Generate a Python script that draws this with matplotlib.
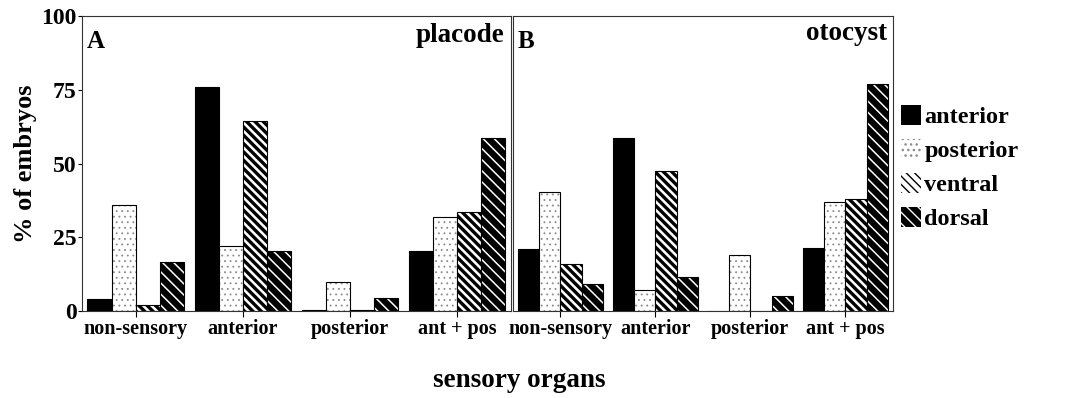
import matplotlib.pyplot as plt
import numpy as np

plt.rcParams['font.family'] = ['Liberation Serif', 'DejaVu Serif']
plt.rcParams['font.weight'] = 'bold'

# data (% of embryos)
categories = ['non-sensory', 'anterior', 'posterior', 'ant + pos']
series = ['anterior', 'posterior', 'ventral', 'dorsal']
placode = {
    'anterior':  [4, 76, 0.3, 20.5],
    'posterior': [36, 22, 10, 32],
    'ventral':   [2, 64.5, 0.3, 33.5],
    'dorsal':    [16.5, 20.5, 4.5, 58.5],
}
otocyst = {
    'anterior':  [21, 58.5, 0, 21.5],
    'posterior': [40.5, 7, 19, 37],
    'ventral':   [16, 47.5, 0, 38],
    'dorsal':    [9, 11.5, 5, 77],
}
yticks = [0, 25, 50, 75, 100]

styles = {
    'anterior':  dict(facecolor='black', edgecolor='black', hatch=None, hlw=1),
    'posterior': dict(facecolor='white', edgecolor='#8a8a8a', hatch='...', hlw=0.6),
    'ventral':   dict(facecolor='white', edgecolor='black', hatch='\\\\\\\\', hlw=2.4),
    'dorsal':    dict(facecolor='black', edgecolor='white', hatch='\\\\\\', hlw=1.1),
}

fig = plt.figure(figsize=(10.88, 3.98), dpi=100)
axA = fig.add_axes([0.0754, 0.2186, 0.394, 0.741])
axB = fig.add_axes([0.4715, 0.2186, 0.349, 0.741])

x = np.arange(len(categories))
w = 0.225


def draw(ax, data):
    for i, s in enumerate(series):
        st = styles[s]
        pos = x + (i - 1.5) * w
        bars = ax.bar(pos, data[s], w, color=st['facecolor'], edgecolor=st['edgecolor'],
                      hatch=st['hatch'], linewidth=0)
        for b in bars:
            b.set_hatch_linewidth(st['hlw'])
        ax.bar(pos, data[s], w, fill=False, edgecolor='black', linewidth=0.8)
    ax.set_xlim(-0.5, 3.5)
    ax.set_ylim(0, 100)
    ax.set_xticks(x)
    ax.set_xticklabels(categories, fontsize=14.5, fontweight='bold')
    ax.tick_params(axis='x', direction='out', length=4, width=0.8, pad=2)
    for sp in ax.spines.values():
        sp.set_linewidth(0.8)
        sp.set_color('#333333')


draw(axA, placode)
draw(axB, otocyst)

axA.set_yticks(yticks)
axA.set_yticklabels([str(v) for v in yticks], fontsize=17, fontweight='bold')
axA.tick_params(axis='y', direction='out', length=3, width=0.8, pad=1)
axB.set_yticks([])

axA.set_ylabel('% of embryos', fontsize=19, fontweight='bold', labelpad=3)
axA.text(0.012, 0.915, 'A', transform=axA.transAxes, fontsize=18, fontweight='bold', va='center')
axA.text(0.985, 0.935, 'placode', transform=axA.transAxes, fontsize=19.5, fontweight='bold',
         va='center', ha='right')
axB.text(0.012, 0.915, 'B', transform=axB.transAxes, fontsize=18, fontweight='bold', va='center')
axB.text(0.985, 0.94, 'otocyst', transform=axB.transAxes, fontsize=19.5, fontweight='bold',
         va='center', ha='right')

fig.text(0.477, 0.045, 'sensory organs', fontsize=19.5, fontweight='bold', ha='center', va='center')

handles = []
for s in series:
    st = styles[s]
    p = plt.Rectangle((0, 0), 1, 1, facecolor=st['facecolor'], edgecolor=st['edgecolor'],
                      hatch=st['hatch'], linewidth=0)
    p.set_hatch_linewidth(st['hlw'])
    handles.append(p)
leg = fig.legend(handles, series, loc='upper left', bbox_to_anchor=(0.819, 0.76),
                 frameon=False, fontsize=17.5, handlelength=0.85, handleheight=0.85,
                 handletextpad=0.12, labelspacing=0.45, borderaxespad=0)
for t in leg.get_texts():
    t.set_fontweight('bold')

plt.savefig('out.png', dpi=100)
